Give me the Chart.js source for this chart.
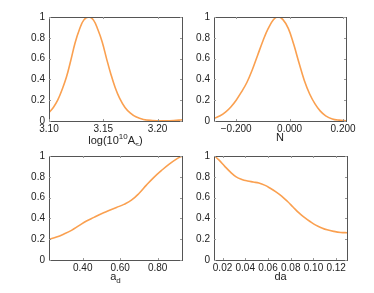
<!DOCTYPE html>
<html>
<head>
<meta charset="utf-8">
<script src="https://cdn.jsdelivr.net/npm/chart.js@4.4.1/dist/chart.umd.min.js"></script>
<style>
  body { margin: 0; background: #fff; }
  #wrap { position: relative; width: 374px; height: 293px; }
  canvas { position: absolute; }
</style>
</head>
<body>
<div id="wrap">
  <canvas id="c1" width="187" height="146" style="left:0;top:0"></canvas>
  <canvas id="c2" width="187" height="146" style="left:187px;top:0"></canvas>
  <canvas id="c3" width="187" height="147" style="left:0;top:146px"></canvas>
  <canvas id="c4" width="187" height="147" style="left:187px;top:146px"></canvas>
</div>
<script>
// datos (likelihood normalizada)
const asX = [3.100, 3.104, 3.108, 3.112, 3.116, 3.120, 3.124, 3.128, 3.132, 3.1367, 3.141, 3.145, 3.149, 3.153, 3.157, 3.161, 3.165, 3.170, 3.175, 3.180, 3.187, 3.195, 3.205, 3.215, 3.2225];
const asY = [0.08, 0.13, 0.20, 0.30, 0.42, 0.58, 0.75, 0.88, 0.97, 1.00, 0.97, 0.88, 0.76, 0.60, 0.45, 0.32, 0.22, 0.13, 0.075, 0.04, 0.015, 0.005, 0.002, 0.004, 0.012];

const nX = [-0.283, -0.26, -0.24, -0.22, -0.20, -0.18, -0.16, -0.14, -0.12, -0.10, -0.08, -0.06, -0.044, -0.025, -0.005, 0.015, 0.035, 0.055, 0.075, 0.095, 0.115, 0.135, 0.16, 0.185, 0.211];
const nY = [0.026, 0.05, 0.085, 0.135, 0.20, 0.28, 0.37, 0.49, 0.63, 0.77, 0.89, 0.975, 1.00, 0.975, 0.89, 0.74, 0.56, 0.39, 0.26, 0.165, 0.095, 0.05, 0.02, 0.008, 0.003];

const adX = [0.22, 0.26, 0.30, 0.34, 0.38, 0.42, 0.46, 0.50, 0.54, 0.58, 0.62, 0.66, 0.70, 0.74, 0.78, 0.82, 0.86, 0.90, 0.93];
const adY = [0.198, 0.22, 0.25, 0.285, 0.33, 0.375, 0.41, 0.445, 0.475, 0.505, 0.535, 0.575, 0.64, 0.72, 0.795, 0.86, 0.92, 0.97, 1.0];

const daX = [0.013, 0.017, 0.022, 0.027, 0.032, 0.037, 0.042, 0.047, 0.052, 0.057, 0.062, 0.067, 0.072, 0.077, 0.082, 0.087, 0.092, 0.097, 0.102, 0.107, 0.112, 0.118, 0.124, 0.130];
const daY = [1.0, 0.96, 0.90, 0.845, 0.80, 0.775, 0.76, 0.75, 0.74, 0.72, 0.69, 0.655, 0.615, 0.565, 0.51, 0.455, 0.41, 0.37, 0.335, 0.31, 0.29, 0.275, 0.265, 0.262];

// ticks
const yTicks = [0, 0.2, 0.4, 0.6, 0.8, 1];
const yTickLabels = ['0', '0.2', '0.4', '0.6', '0.8', '1'];
const asTicks = [3.10, 3.15, 3.20];
const asTickLabels = ['3.10', '3.15', '3.20'];
const nTicks = [-0.2, 0, 0.2];
const nTickLabels = ['\u22120.200', '0.000', '0.200'];
const adTicks = [0.4, 0.6, 0.8];
const adTickLabels = ['0.40', '0.60', '0.80'];
const daTicks = [0.02, 0.04, 0.06, 0.08, 0.10, 0.12];
const daTickLabels = ['0.02', '0.04', '0.06', '0.08', '0.10', '0.12'];

const naranja = 'rgb(250,160,80)';
const fuente = "'Liberation Sans', Arial, sans-serif";

// plugin: caja alrededor, marcas internas y titulo del eje con sub/superindices
const cajaPlugin = {
  id: 'caja',
  afterDraw(chart, args, opts) {
    const ctx = chart.ctx;
    const a = chart.chartArea;
    ctx.save();
    ctx.strokeStyle = '#555';
    ctx.lineWidth = 1;
    ctx.strokeRect(Math.round(a.left) + 0.5, Math.round(a.top) + 0.5, Math.round(a.right - a.left), Math.round(a.bottom - a.top));
    ctx.strokeStyle = '#999';
    ctx.beginPath();
    chart.scales.x.ticks.forEach(t => {
      const px = Math.round(chart.scales.x.getPixelForValue(t.value)) + 0.5;
      ctx.moveTo(px, a.bottom); ctx.lineTo(px, a.bottom - 2);
      ctx.moveTo(px, a.top); ctx.lineTo(px, a.top + 2);
    });
    chart.scales.y.ticks.forEach(t => {
      const py = Math.round(chart.scales.y.getPixelForValue(t.value)) + 0.5;
      ctx.moveTo(a.left, py); ctx.lineTo(a.left + 2, py);
      ctx.moveTo(a.right, py); ctx.lineTo(a.right - 2, py);
    });
    ctx.stroke();

    // titulo
    const partes = opts.partes || [];
    const normal = '11px ' + fuente;
    const chica = '8px ' + fuente;
    let ancho = 0;
    partes.forEach(p => { ctx.font = p[1] ? chica : normal; ancho += ctx.measureText(p[0]).width; });
    let x = (a.left + a.right) / 2 - ancho / 2;
    ctx.fillStyle = '#222';
    ctx.textBaseline = 'alphabetic';
    ctx.textAlign = 'left';
    partes.forEach(p => {
      ctx.font = p[1] ? chica : normal;
      let dy = 0;
      if (p[1] === 'sup') dy = -5;
      if (p[1] === 'sub') dy = 3;
      ctx.fillText(p[0], x, opts.y + dy);
      x += ctx.measureText(p[0]).width;
    });
    ctx.restore();
  }
};

function crearPanel(id, xs, ys, xmin, xmax, ticks, etiquetas, partes, tituloY, pad, anchoY, altoX) {
  const puntos = xs.map((v, i) => ({ x: v, y: ys[i] }));
  return new Chart(document.getElementById(id), {
    type: 'line',
    data: {
      datasets: [{
        data: puntos,
        borderColor: naranja,
        borderWidth: 1.6,
        pointRadius: 0,
        fill: false,
        tension: 0.4
      }]
    },
    options: {
      responsive: false,
      animation: false,
      devicePixelRatio: 1,
      layout: { padding: pad },
      plugins: {
        legend: { display: false },
        tooltip: { enabled: false },
        caja: { partes: partes, y: tituloY }
      },
      scales: {
        x: {
          type: 'linear',
          min: xmin,
          max: xmax,
          grid: { display: false, drawTicks: false },
          border: { display: false },
          afterBuildTicks: s => { s.ticks = ticks.map(v => ({ value: v })); },
          afterFit: s => { s.height = altoX; },
          ticks: {
            padding: 2,
            maxRotation: 0,
            autoSkip: false,
            color: '#222',
            font: { family: fuente, size: 10 },
            callback: (v, i) => etiquetas[i]
          }
        },
        y: {
          min: 0,
          max: 1,
          grid: { display: false, drawTicks: false },
          border: { display: false },
          afterBuildTicks: s => { s.ticks = yTicks.map(v => ({ value: v })); },
          afterFit: s => { s.width = anchoY; },
          ticks: {
            padding: 4,
            color: '#222',
            font: { family: fuente, size: 10 },
            callback: (v, i) => yTickLabels[i]
          }
        }
      }
    },
    plugins: [cajaPlugin]
  });
}

crearPanel('c1', asX, asY, 3.100, 3.2225, asTicks, asTickLabels,
  [['log(10', ''], ['10', 'sup'], ['A', ''], ['s', 'sub'], [')', '']], 144,
  { top: 17, right: 5, left: 0, bottom: 0 }, 49, 25);
crearPanel('c2', nX, nY, -0.283, 0.211, nTicks, nTickLabels,
  [['N', '']], 141,
  { top: 17, right: 28, left: 0, bottom: 0 }, 27, 25);
crearPanel('c3', adX, adY, 0.22, 0.93, adTicks, adTickLabels,
  [['a', ''], ['d', 'sub']], 134,
  { top: 10, right: 5, left: 0, bottom: 0 }, 49, 33);
crearPanel('c4', daX, daY, 0.0125, 0.1295, daTicks, daTickLabels,
  [['da', '']], 134,
  { top: 10, right: 27, left: 0, bottom: 0 }, 27, 33);
</script>
</body>
</html>
